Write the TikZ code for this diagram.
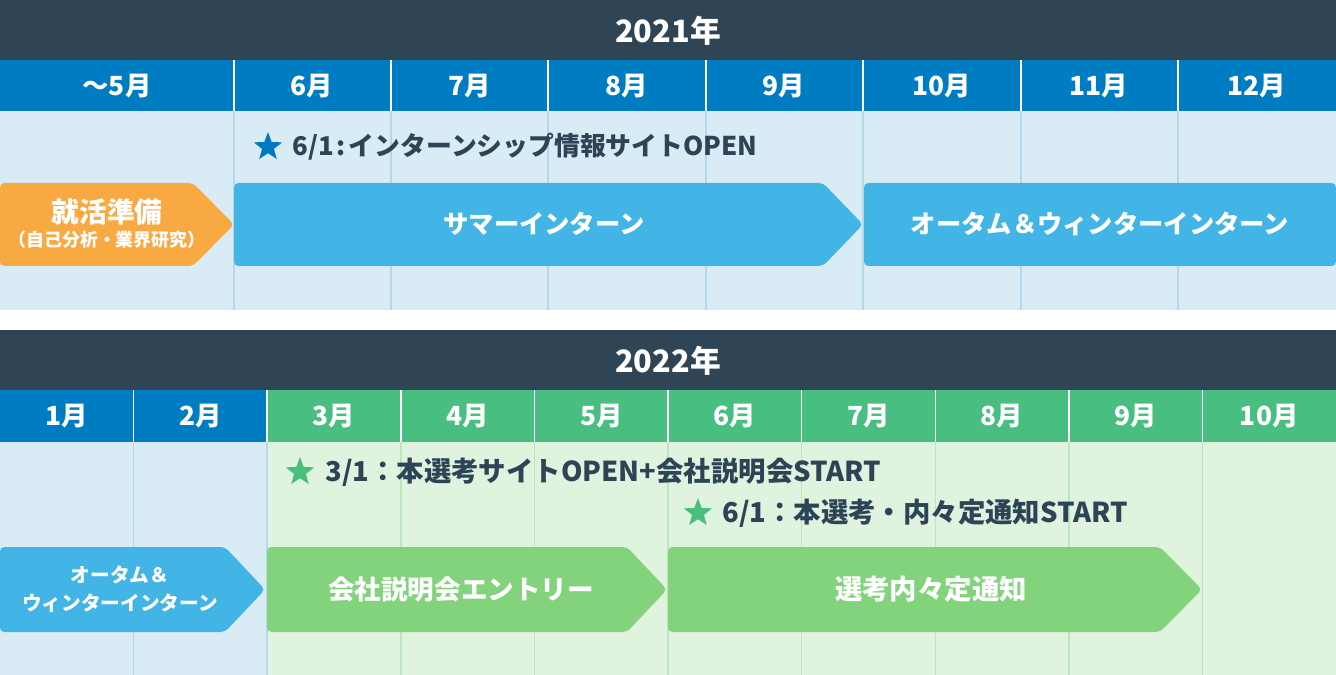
\documentclass[tikz,border=0pt]{standalone}
\usepackage{fontspec}
\setmainfont{Noto Sans CJK JP}
\usetikzlibrary{shapes.geometric}

\definecolor{headbg}{HTML}{2F4556}
\definecolor{barblue}{HTML}{007DC2}
\definecolor{bodyblue}{HTML}{D9EBF5}
\definecolor{lineblue}{HTML}{B4D7EC}
\definecolor{bargreen}{HTML}{48BE80}
\definecolor{bodygreen}{HTML}{E0F3DE}
\definecolor{linegreen}{HTML}{BDE5C0}
\definecolor{boxorange}{HTML}{F9A942}
\definecolor{boxcyan}{HTML}{42B4E5}
\definecolor{boxgreen}{HTML}{82D37B}
\definecolor{starblue}{HTML}{0079C2}
\definecolor{stargreen}{HTML}{49BE7E}
\definecolor{darktext}{HTML}{2D4457}

% pentagon arrow: x0, flat end, tip, top, bottom
\newcommand{\tagshape}[6]{%
  \fill[#6, rounded corners=2.5pt] (#1,#4) -- (#2,#4) -- (#3,{(#4+#5)/2}) -- (#2,#5) -- (#1,#5) -- cycle;}
\newcommand{\fsz}[1]{\fontsize{#1}{1.2\dimexpr#1\relax}\selectfont\bfseries}

\begin{document}
\begin{tikzpicture}[x=0.02cm, y=-0.02cm,
  yeartext/.style={text=white, font=\fsz{17.5pt}},
  month/.style={text=white, font=\fsz{15pt}},
  note/.style={text=darktext, anchor=west, inner sep=0pt, font=\fsz{14.7pt}},
  boxtext/.style={text=white, align=center, font=\fsz{14.4pt}},
  smalltext/.style={text=white, align=center, font=\fontsize{11.2pt}{16pt}\selectfont\bfseries},
  starmark/.style={star, star points=5, star point ratio=2.4, minimum size=17pt, inner sep=0pt}]
\useasboundingbox (0,0) rectangle (1336,675);

% ---- 2021
\fill[headbg] (0,0) rectangle (1336,60);
\node[yeartext] (year1) at (668,31) {2021年};
\fill[barblue] (0,60) rectangle (1336,111);
\fill[bodyblue] (0,111) rectangle (1336,310);
\foreach \x in {234,391,548,706,863,1021,1178} {
  \draw[white, line width=0.8pt] (\x,60) -- (\x,111);
  \draw[lineblue, line width=0.8pt] (\x,111) -- (\x,310);
}
\foreach \m/\x [count=\i] in {～5月/117,6月/312,7月/470,8月/627,9月/784,10月/942,11月/1099,12月/1257}
  \node[month] (ma\i) at (\x,86) {\m};

\node[starmark, fill=starblue] (stara) at (268,147) {};
\node[note] (notea) at (292,147) {6/1\kern0.12em:\kern0.12emインターンシップ情報サイトOPEN};

\tagshape{0}{193}{234}{183}{266}{boxorange}
\node[boxtext, font=\fsz{15.8pt}] (prep) at (107,212) {就活準備};
\node[smalltext, font=\fsz{10.2pt}] (prepsub) at (107,240) {（自己分析・業界研究）};
\tagshape{234}{823}{863}{183}{266}{boxcyan}
\node[boxtext] (summer) at (544,224) {サマーインターン};
\fill[boxcyan, rounded corners=2.5pt] (864,183) rectangle (1336,266);
\node[boxtext] (autumn) at (1100,224) {オータム＆ウィンターインターン};

% ---- 2022
\fill[headbg] (0,330) rectangle (1336,390);
\node[yeartext] (year2) at (668,361) {2022年};
\fill[barblue] (0,390) rectangle (267.2,442);
\fill[bargreen] (267.2,390) rectangle (1336,442);
\fill[bodyblue] (0,442) rectangle (267.2,675);
\fill[bodygreen] (267.2,442) rectangle (1336,675);
\foreach \i in {1,...,9} {
  \draw[white, line width=0.8pt] (\i*133.6,390) -- (\i*133.6,442);
}
\draw[lineblue, line width=0.8pt] (133.6,442) -- (133.6,675);
\draw[lineblue, line width=0.8pt] (267.2,442) -- (267.2,675);
\foreach \i in {3,...,9} {
  \draw[linegreen, line width=0.8pt] (\i*133.6,442) -- (\i*133.6,675);
}
\foreach \m [count=\i] in {1月,2月,3月,4月,5月,6月,7月,8月,9月,10月}
  \node[month] (mb\i) at ({(\i-0.5)*133.6},416) {\m};

\node[starmark, fill=stargreen] (starb) at (300,472) {};
\node[note, font=\fsz{15.6pt}] (noteb) at (325,472) {3/1：本選考サイトOPEN+会社説明会START};
\node[starmark, fill=stargreen] (starc) at (698,513) {};
\node[note, font=\fsz{15.6pt}] (notec) at (722,513) {6/1：本選考・内々定通知START};

\tagshape{0}{225}{265}{547}{632}{boxcyan}
\node[smalltext] (winter) at (120,589) {オータム＆\\ウィンターインターン};
\tagshape{267}{627}{667}{547}{632}{boxgreen}
\node[boxtext, font=\fsz{15.1pt}] (entry) at (461,589) {会社説明会エントリー};
\tagshape{668}{1160}{1202}{547}{632}{boxgreen}
\node[boxtext, font=\fsz{15.6pt}] (offer) at (931,589) {選考内々定通知};
\end{tikzpicture}
\end{document}
